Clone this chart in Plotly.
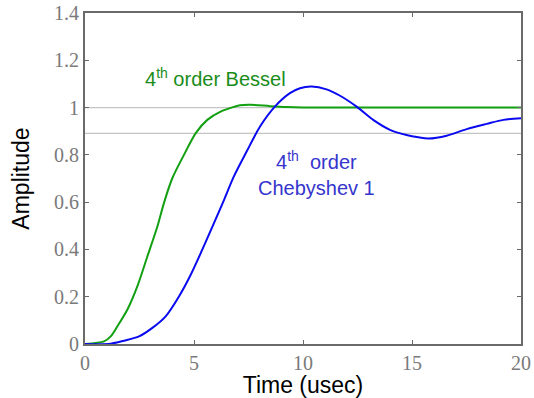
import plotly.graph_objects as go

# Step responses of two 4th-order low-pass filters (time in microseconds)
bessel_t = [0, 0.87, 1.18, 1.48, 1.94, 2.40, 2.86, 3.32, 3.62, 4.0, 4.54, 5.08,
            5.61, 6.22, 6.83, 7.11, 7.57, 8.49, 9.25, 10, 12, 14, 16, 18, 20]
bessel_v = [0, 0.011, 0.032, 0.074, 0.145, 0.244, 0.37, 0.497, 0.596, 0.70, 0.80, 0.892,
            0.948, 0.983, 1.003, 1.010, 1.012, 1.006, 1.002, 1.0, 1.0, 1.0, 1.0, 1.0, 1.0]

cheby_t = [0, 1.18, 1.79, 2.48, 3.09, 3.70, 4.31, 4.85, 5.38, 5.92, 6.38, 6.83,
           7.42, 8.03, 8.72, 9.40, 9.86, 10.4, 11.08, 11.70, 12.46, 13.22, 13.99,
           14.75, 15.29, 15.75, 16.59, 17.51, 18.43, 19.19, 20]
cheby_v = [0, 0.001, 0.014, 0.032, 0.068, 0.117, 0.201, 0.293, 0.399, 0.512, 0.61, 0.709,
           0.815, 0.92, 1.005, 1.061, 1.082, 1.089, 1.077, 1.05, 1.004, 0.948, 0.906,
           0.884, 0.874, 0.869, 0.881, 0.909, 0.931, 0.948, 0.955]

# Reference levels: final value and passband-ripple level
ref_levels = [1.0, 0.891]

x_ticks = [0, 5, 10, 15, 20]
y_ticks = [0, 0.2, 0.4, 0.6, 0.8, 1.0, 1.2, 1.4]

fig = go.Figure()

for lvl in ref_levels:
    fig.add_trace(go.Scatter(x=[0, 20], y=[lvl, lvl], mode="lines",
                             line=dict(color="#c4c4c4", width=1.3),
                             hoverinfo="skip", showlegend=False))

fig.add_trace(go.Scatter(x=bessel_t, y=bessel_v, mode="lines",
                         line=dict(color="#12a012", width=2, shape="spline", smoothing=0.8),
                         showlegend=False))
fig.add_trace(go.Scatter(x=cheby_t, y=cheby_v, mode="lines",
                         line=dict(color="#0a0af0", width=2, shape="spline", smoothing=0.8),
                         showlegend=False))

fig.add_annotation(x=6.0, y=1.126, xref="x", yref="y",
                   text="4<sup>th</sup> order Bessel", showarrow=False,
                   font=dict(family="Liberation Sans, Arial", size=20, color="#1a8c1a"))
fig.add_annotation(x=10.6, y=0.72, xref="x", yref="y",
                   text="4<sup>th</sup>  order<br>Chebyshev 1", showarrow=False,
                   align="center",
                   font=dict(family="Liberation Sans, Arial", size=20, color="#3535cc"))

axis_common = dict(
    showline=True, linecolor="#6a6a6a", linewidth=2, mirror="ticks",
    ticks="inside", ticklen=4, tickcolor="#6a6a6a", tickwidth=1,
    showgrid=False, zeroline=False, automargin=False,
    tickfont=dict(family="Liberation Serif, Times New Roman", size=20, color="#7a7a7a"),
)

fig.update_xaxes(range=[0, 20], tickvals=x_ticks,
                 title=dict(text="Time (usec)", standoff=2,
                            font=dict(family="Liberation Sans, Arial", size=23, color="#000000")),
                 **axis_common)
fig.update_yaxes(range=[0, 1.4], tickvals=y_ticks,
                 title=dict(text="Amplitude", standoff=18,
                            font=dict(family="Liberation Sans, Arial", size=23, color="#000000")),
                 **axis_common)

fig.update_layout(
    width=534, height=398,
    margin=dict(l=85, r=13, t=13, b=54),
    plot_bgcolor="white", paper_bgcolor="white",
)

fig.write_html("out.html")
